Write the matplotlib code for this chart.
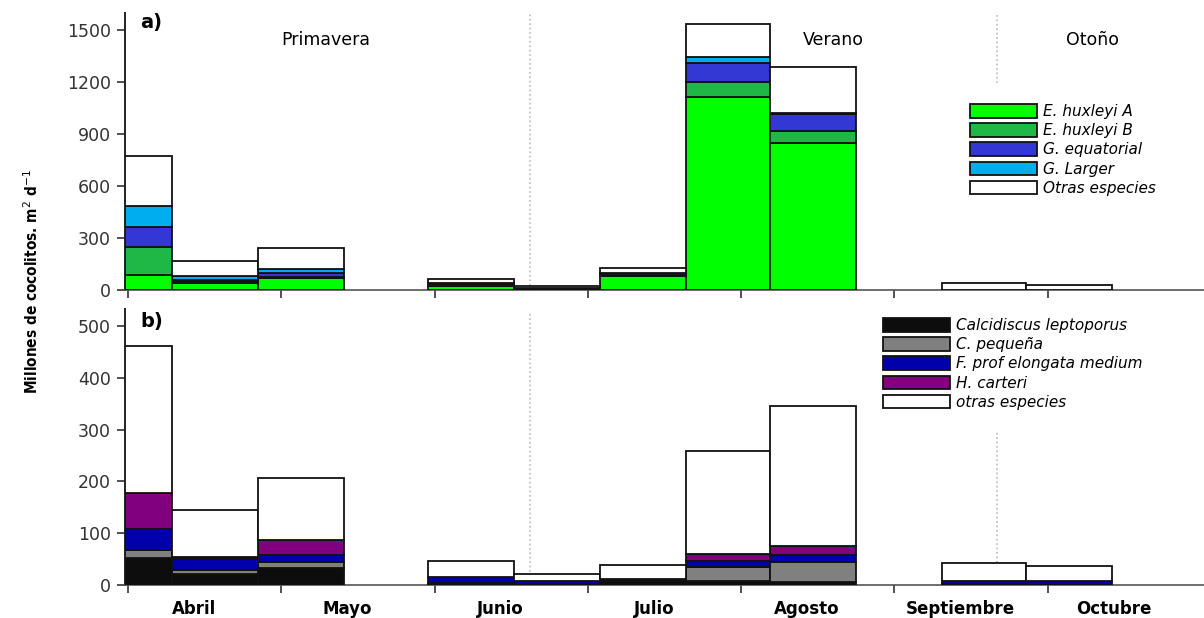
import matplotlib
matplotlib.use("Agg")
import matplotlib.pyplot as plt
import matplotlib.patches as mpatches
from matplotlib import font_manager
import numpy as np

# Sampling periods in month units (0 = start of April)
periodo_ini = [-0.02, 0.29, 0.85, 1.96, 2.52, 3.08, 3.64, 4.19, 5.31, 5.86]
periodo_fin = [0.29, 0.85, 1.41, 2.52, 3.08, 3.64, 4.19, 4.75, 5.86, 6.42]

meses = ["Abril", "Mayo", "Junio", "Julio", "Agosto", "Septiembre", "Octubre"]
estaciones = ["Primavera", "Verano", "Otoño"]
limites_estacion = [2.62, 5.67]

# a) Emiliania / Gephyrocapsa fluxes (millions of coccoliths m-2 d-1)
ehux_a = [85, 42, 70, 22, 5, 83, 1115, 850, 0, 0]
ehux_b = [165, 3, 5, 3, 2, 3, 87, 67, 0, 0]
g_equatorial = [115, 10, 22, 8, 3, 10, 109, 100, 0, 0]
g_larger = [122, 25, 25, 5, 0, 2, 31, 4, 0, 0]
otras_a = [286, 85, 122, 27, 12, 27, 193, 267, 42, 31]

# b) other coccolithophores
calcidiscus = [53, 21, 33, 2, 1, 8, 8, 6, 1, 0]
c_pequena = [15, 7, 11, 2, 1, 2, 27, 39, 0, 0]
f_profunda = [40, 22, 14, 12, 5, 1, 11, 13, 7, 8]
h_carteri = [70, 5, 29, 0, 0, 0, 14, 17, 0, 0]
otras_b = [283, 89, 119, 30, 14, 27, 199, 271, 34, 29]

serie_a = [
    ("E. huxleyi A", ehux_a, "#00ff00"),
    ("E. huxleyi B", ehux_b, "#1db944"),
    ("G. equatorial", g_equatorial, "#3338d4"),
    ("G. Larger", g_larger, "#00aeef"),
    ("Otras especies", otras_a, "white"),
]
serie_b = [
    ("Calcidiscus leptoporus", calcidiscus, "#0d0d0d"),
    ("C. pequeña", c_pequena, "#808080"),
    ("F. prof elongata medium", f_profunda, "#0000aa"),
    ("H. carteri", h_carteri, "#800080"),
    ("otras especies", otras_b, "white"),
]

plt.rcParams["font.family"] = ["DejaVu Sans"]

# narrow upright bold face for the y label, if one is around
narrow = None
for f in font_manager.findSystemFonts():
    low = f.lower().replace("\\", "/").split("/")[-1]
    if low in ("dejavusanscondensed-bold.ttf", "liberationsansnarrow-bold.ttf"):
        narrow = f
        break

fig = plt.figure(figsize=(12.04, 6.18), dpi=100)
ax_a = fig.add_axes([0.1038, 0.5307, 0.8962, 0.4482])
ax_b = fig.add_axes([0.1038, 0.0534, 0.8962, 0.4466])

x0 = np.array(periodo_ini)
ancho = np.array(periodo_fin) - x0


def apilar(ax, series):
    base = np.zeros(len(x0))
    handles = []
    for nombre, vals, color in series:
        vals = np.array(vals, dtype=float)
        ax.bar(x0, vals, width=ancho, bottom=base, align="edge",
               color=color, edgecolor="#111111", linewidth=1.3, zorder=3)
        base += vals
        handles.append(mpatches.Patch(facecolor=color, edgecolor="#111111",
                                      linewidth=1.3, label=nombre))
    return handles


def estilo(ax, ymax, yticks):
    ax.set_xlim(-0.02, 7.02)
    ax.set_ylim(0, ymax)
    ax.spines["top"].set_visible(False)
    ax.spines["right"].set_visible(False)
    ax.spines["left"].set_linewidth(1.4)
    ax.spines["left"].set_color("#222222")
    ax.spines["bottom"].set_linewidth(1.2)
    ax.spines["bottom"].set_color("#555555")
    ax.set_xticks(range(7))
    ax.set_xticklabels([])
    ax.set_yticks(yticks)
    ax.tick_params(axis="both", which="major", direction="out", length=6,
                   width=1.2, color="#333333")
    ax.tick_params(axis="y", labelsize=12.5, labelcolor="#333333", pad=4)


h_a = apilar(ax_a, serie_a)
h_b = apilar(ax_b, serie_b)
estilo(ax_a, 1598, [0, 300, 600, 900, 1200, 1500])
estilo(ax_b, 533, [0, 100, 200, 300, 400, 500])

# season boundaries
ax_a.vlines(limites_estacion[0], 0, 1598, colors="#bbbbbb", linestyles=":", linewidth=1.2, zorder=1)
ax_a.vlines(limites_estacion[1], 1194, 1585, colors="#bbbbbb", linestyles=":", linewidth=1.2, zorder=1)
ax_b.vlines(limites_estacion[0], 0, 525, colors="#bbbbbb", linestyles=":", linewidth=1.2, zorder=1)
ax_b.vlines(limites_estacion[1], 35, 295, colors="#bbbbbb", linestyles=":", linewidth=1.2, zorder=1)

for txt, xs in zip(estaciones, [1.29, 4.6, 6.29]):
    ax_a.text(xs, 1442, txt, ha="center", va="center", fontsize=12.5)

ax_a.text(0.08, 1545, "a)", fontsize=14, fontweight="bold", va="center", ha="left")
ax_b.text(0.08, 508, "b)", fontsize=14, fontweight="bold", va="center", ha="left")

# month names centred under each month interval
ax_b.set_xticks([i + 0.43 for i in range(7)], minor=True)
ax_b.set_xticklabels(meses, minor=True)
ax_b.tick_params(axis="x", which="minor", length=0, pad=11, labelsize=12)
for lab in ax_b.get_xticklabels(minor=True):
    lab.set_fontweight("bold")

leg_kw = dict(frameon=False, handlelength=4.4, handleheight=1.0,
              labelspacing=0.27, handletextpad=0.4, borderpad=0,
              borderaxespad=0, loc="upper left")
ax_a.legend(handles=h_a, bbox_to_anchor=(970 / 1204, 1 - 104 / 618),
            bbox_transform=fig.transFigure,
            prop={"style": "italic", "size": 11}, **leg_kw)
ax_b.legend(handles=h_b, bbox_to_anchor=(883 / 1204, 1 - 318 / 618),
            bbox_transform=fig.transFigure,
            prop={"style": "italic", "size": 11}, **leg_kw)

if narrow:
    ylab_font = font_manager.FontProperties(fname=narrow, size=11)
else:
    ylab_font = font_manager.FontProperties(family="Liberation Sans", weight="bold", size=11)
fig.text(0.026, 0.545, "Millones de cocolitos. m$^{2}$ d$^{-1}$", rotation=90,
         ha="center", va="center", fontproperties=ylab_font)

fig.savefig("out.png", dpi=100)
